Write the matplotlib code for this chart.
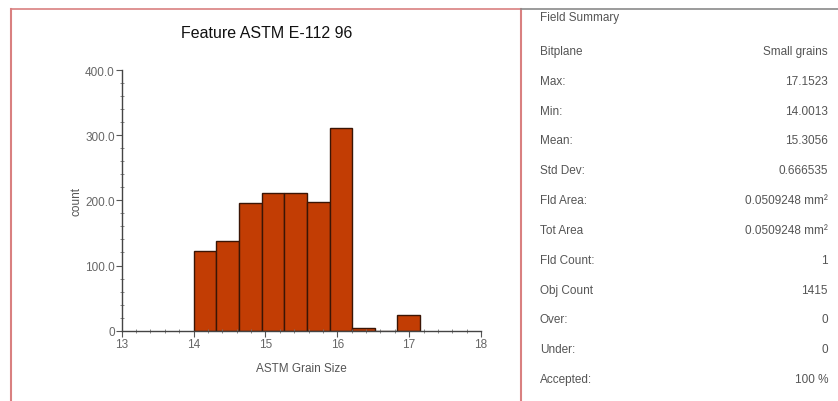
import matplotlib
matplotlib.use("Agg")
import matplotlib.pyplot as plt
from matplotlib.lines import Line2D
from matplotlib.ticker import MultipleLocator, FixedLocator

plt.rcParams['font.family'] = ['Liberation Sans', 'DejaVu Sans']

# ---- data ----
title = "Feature ASTM E-112 96"
x_label = "ASTM Grain Size"
y_label = "count"
bin_edges = [14.0013, 14.3164, 14.6315, 14.9466, 15.2617, 15.5768,
             15.8919, 16.2070, 16.5221, 16.8372, 17.1523]
counts = [123, 137, 196, 211, 211, 198, 311, 4, 0, 24]
x_ticks = [13, 14, 15, 16, 17, 18]
y_ticks = [0, 100, 200, 300, 400]
y_tick_labels = ["0", "100.0", "200.0", "300.0", "400.0"]

summary_title = "Field Summary"
summary_labels = ["Bitplane", "Max:", "Min:", "Mean:", "Std Dev:", "Fld Area:",
                  "Tot Area", "Fld Count:", "Obj Count", "Over:", "Under:", "Accepted:"]
summary_values = ["Small grains", "17.1523", "14.0013", "15.3056", "0.666535",
                  "0.0509248 mm\u00b2", "0.0509248 mm\u00b2", "1", "1415", "0", "0", "100 %"]

W, H = 838, 402
fig = plt.figure(figsize=(W / 100, H / 100), dpi=100)
fig.patch.set_facecolor("white")

ax = fig.add_axes([121.7 / W, 1 - 331.7 / H, 359.3 / W, 260.7 / H])
widths = [bin_edges[i + 1] - bin_edges[i] for i in range(len(counts))]
ax.bar(bin_edges[:-1], counts, width=widths, align="edge",
       color="#C23D04", edgecolor="#3a1505", linewidth=1.0)

ax.set_xlim(13, 18)
ax.set_ylim(0, 400)
ax.xaxis.set_major_locator(FixedLocator(x_ticks))
ax.xaxis.set_minor_locator(MultipleLocator(0.2))
ax.yaxis.set_major_locator(FixedLocator(y_ticks))
ax.set_yticklabels(y_tick_labels)
ax.yaxis.set_minor_locator(MultipleLocator(20))

for s in ["top", "right"]:
    ax.spines[s].set_visible(False)
for s in ["left", "bottom"]:
    ax.spines[s].set_color("#444444")
    ax.spines[s].set_linewidth(1.0)

ax.tick_params(axis="both", which="major", length=4, width=0.8, color="#555555",
               labelsize=8.5, labelcolor="#666666", direction="out", pad=1)
ax.tick_params(axis="x", which="minor", length=3, width=0.6, color="#777777", direction="inout")
ax.tick_params(axis="y", which="minor", length=3, width=0.6, color="#777777", direction="inout")

ax.set_xlabel(x_label, fontsize=8.5, color="#555555", labelpad=9)
ax.set_ylabel(y_label, fontsize=8.5, color="#555555", labelpad=2)

fig.text(267 / W, 1 - 34 / H, title, fontsize=11.5, color="#111111",
         ha="center", va="center")

# panel borders
red = "#d98080"
fig.add_artist(Line2D([11 / W, 521 / W], [1 - 10 / H, 1 - 10 / H], color=red, lw=1.2))
fig.add_artist(Line2D([11 / W, 11 / W], [0, 1 - 10 / H], color=red, lw=1.5))
fig.add_artist(Line2D([521 / W, 521 / W], [0, 1 - 10 / H], color=red, lw=1.5))
fig.add_artist(Line2D([521 / W, 1], [1 - 10 / H, 1 - 10 / H], color="#8a8a8a", lw=1.2))

# summary panel
tc = "#555555"
fig.text(540 / W, 1 - 18 / H, summary_title, fontsize=8.5, color=tc, va="center", ha="left")
y0, step = 52, (380 - 52) / (len(summary_labels) - 1)
for i, (lab, val) in enumerate(zip(summary_labels, summary_values)):
    y = 1 - (y0 + i * step) / H
    fig.text(540 / W, y, lab, fontsize=8.5, color=tc, va="center", ha="left")
    fig.text(828 / W, y, val, fontsize=8.5, color=tc, va="center", ha="right")

fig.savefig("out.png", dpi=100, facecolor="white")
